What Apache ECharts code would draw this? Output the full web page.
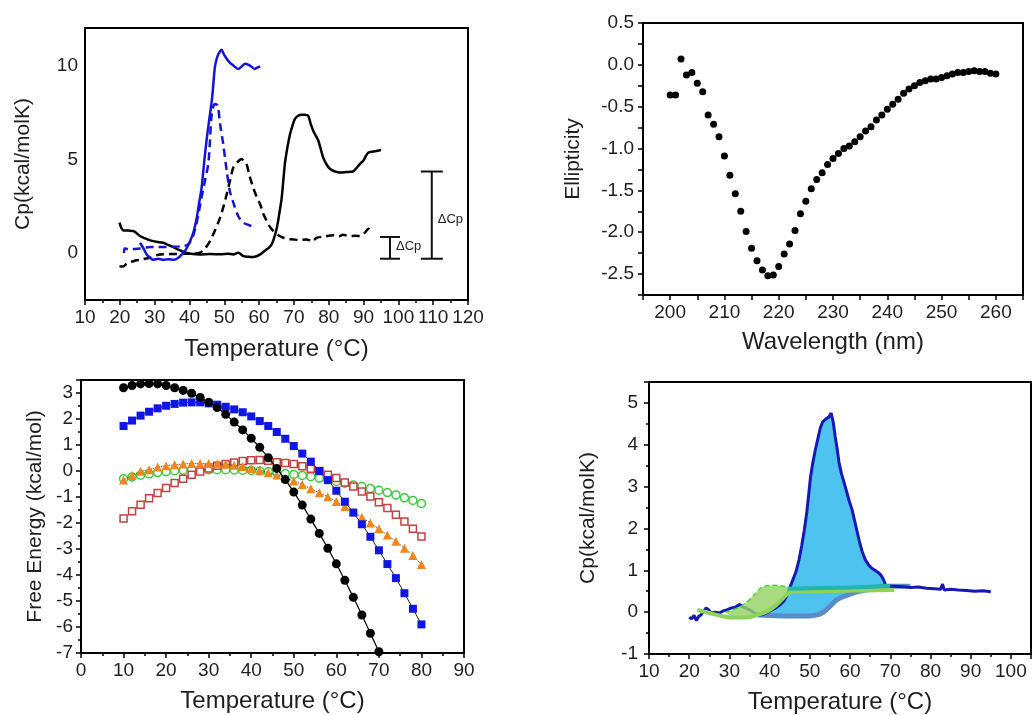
<!DOCTYPE html>
<html><head><meta charset="utf-8">
<script src="https://cdn.jsdelivr.net/npm/echarts@6/dist/echarts.min.js"></script>
<style>html,body{margin:0;padding:0;background:#fff}#c{width:1032px;height:715px}</style>
</head><body><div id="c"></div>
<script>
// ---------- Panel A: DSC thermograms (Cp vs T) ----------
var blueSolid = [[25.8,0.55],[26.8,0.25],[27.7,-0.07],[28.7,-0.25],[29.6,-0.36],[31,-0.3],[32.5,-0.36],[34,-0.33],[35.5,-0.36],[36.8,-0.25],[37.8,-0.07],[39,0.2],[40.2,0.64],[41.2,1.15],[42.1,1.89],[42.8,2.7],[43.5,3.5],[44.2,4.8],[44.9,6.0],[45.6,7.0],[46.4,8.1],[46.9,9.1],[47.3,9.9],[47.8,10.35],[48.3,10.6],[49.2,10.84],[49.9,10.6],[50.7,10.36],[51.6,10.15],[52.6,10.0],[54,9.82],[55,9.95],[56,10.09],[57.4,10.0],[58.8,9.82],[59.6,9.9],[60.3,9.96]];
var blueDashed = [[21.2,0.0],[21.4,0.25],[22.5,0.2],[24,0.22],[25.8,0.25],[27.5,0.3],[29.1,0.32],[31,0.33],[33,0.33],[35,0.34],[37.8,0.37],[39.5,0.45],[40.8,0.8],[41.8,1.4],[42.7,2.2],[43.5,3.0],[44.5,3.9],[45.4,4.74],[45.9,6.0],[46.4,7.4],[47.3,7.95],[48.1,7.86],[48.8,6.88],[49.7,5.81],[50.7,4.38],[51.6,3.3],[52.6,2.69],[54,1.98],[55.5,1.62],[57.9,1.44],[58.3,1.42]];
var blackSolid = [[19.9,1.62],[21,1.21],[22.5,1.2],[23.9,1.18],[25.8,0.91],[27.3,0.78],[28.7,0.68],[30.5,0.6],[32.5,0.55],[34,0.42],[35.4,0.32],[36.6,0.2],[37.8,0.11],[39,0.02],[41,-0.05],[43,-0.07],[46,-0.05],[49,-0.06],[51,-0.03],[52.6,-0.07],[54,0.02],[55.5,-0.16],[57,-0.2],[58.3,-0.21],[59.5,-0.15],[60.3,-0.07],[61.3,0.07],[62.2,0.2],[63,0.32],[63.6,0.46],[64.3,0.8],[65.1,1.35],[65.8,2.1],[66.5,2.96],[67.4,4.74],[68.1,5.6],[68.9,6.35],[69.6,6.8],[70.3,7.15],[71.2,7.32],[72.2,7.38],[73.2,7.37],[74.1,7.33],[74.8,6.9],[75.6,6.5],[76.3,6.25],[77,6.0],[77.7,5.55],[78.4,5.1],[79.3,4.75],[80.4,4.48],[81.8,4.35],[83.2,4.3],[85,4.32],[87,4.35],[87.8,4.5],[88.5,4.65],[89.2,4.8],[89.9,4.92],[90.6,5.15],[91.4,5.36],[92.8,5.42],[95,5.5]];
var blackDashed = [[19.9,-0.7],[20.9,-0.72],[22,-0.55],[23.9,-0.43],[26,-0.35],[28.7,-0.25],[31.5,-0.07],[35,-0.05],[38.2,-0.04],[41,-0.02],[43,0.02],[44.5,0.25],[45.9,0.64],[47.3,1.2],[48.8,1.89],[49.8,2.5],[50.7,3.14],[51.7,3.9],[52.6,4.56],[53.8,4.85],[55,5.01],[55.7,4.9],[56.4,4.74],[57.3,4.1],[58.3,3.49],[59.3,3.0],[60.3,2.6],[61.2,2.1],[62.2,1.71],[63.1,1.4],[64.1,1.18],[65.5,0.95],[67,0.82],[68.5,0.75],[69.8,0.73],[71.5,0.7],[73.6,0.73],[74.5,0.68],[75.1,0.6],[75.8,0.7],[76.6,0.82],[78.5,0.88],[81.3,0.95],[83,0.9],[84,0.98],[86.1,0.91],[87.5,0.92],[89,0.91],[90.4,1.09],[91.4,1.3],[92.1,1.2]];
// error bars: [T, low, high, label y]
var deltaCpBars = [[97.6,-0.3,0.86,0.34],[109.6,-0.3,4.35,1.8]];
var deltaCpLabel = 'ΔCp';

// ---------- Panel B: CD spectrum ----------
var wavelengths = [200,201,202,203,204,205,206,207,208,209,210,211,212,213,214,215,216,217,218,219,220,221,222,223,224,225,226,227,228,229,230,231,232,233,234,235,236,237,238,239,240,241,242,243,244,245,246,247,248,249,250,251,252,253,254,255,256,257,258,259,260];
var ellipticity = [-0.36,-0.36,0.07,-0.12,-0.09,-0.22,-0.32,-0.60,-0.71,-0.86,-1.09,-1.32,-1.54,-1.75,-1.99,-2.19,-2.34,-2.45,-2.52,-2.51,-2.41,-2.26,-2.14,-1.98,-1.78,-1.63,-1.48,-1.37,-1.29,-1.19,-1.12,-1.06,-1.00,-0.97,-0.92,-0.86,-0.79,-0.74,-0.66,-0.60,-0.53,-0.47,-0.41,-0.34,-0.29,-0.25,-0.21,-0.19,-0.17,-0.17,-0.15,-0.13,-0.11,-0.09,-0.09,-0.08,-0.07,-0.08,-0.08,-0.10,-0.11];

// ---------- Panel C: Free energy ----------
var temps3 = [10,12,14,16,18,20,22,24,26,28,30,32,34,36,38,40,42,44,46,48,50,52,54,56,58,60,62,64,66,68,70,72,74,76,78,80];
var gBlack = [3.2,3.29,3.35,3.36,3.35,3.29,3.2,3.1,2.99,2.83,2.64,2.44,2.18,1.88,1.58,1.26,0.91,0.51,0.10,-0.33,-0.81,-1.31,-1.85,-2.4,-2.97,-3.57,-4.2,-4.86,-5.54,-6.24,-6.95];
var gBlue = [1.73,1.94,2.13,2.28,2.41,2.51,2.58,2.63,2.64,2.64,2.6,2.55,2.47,2.37,2.26,2.1,1.92,1.73,1.5,1.24,0.96,0.67,0.36,0.0,-0.35,-0.76,-1.18,-1.6,-2.05,-2.53,-3.05,-3.58,-4.12,-4.7,-5.3,-5.9];
var gRed = [-1.83,-1.55,-1.3,-1.05,-0.85,-0.65,-0.46,-0.3,-0.14,-0.02,0.1,0.2,0.27,0.33,0.38,0.41,0.42,0.39,0.34,0.31,0.27,0.18,0.09,0.0,-0.14,-0.27,-0.44,-0.6,-0.79,-0.98,-1.2,-1.42,-1.68,-1.94,-2.22,-2.52];
var gOrange = [-0.35,-0.17,-0.01,0.05,0.15,0.2,0.24,0.27,0.29,0.29,0.29,0.28,0.26,0.22,0.17,0.1,0.03,-0.07,-0.15,-0.27,-0.38,-0.52,-0.68,-0.84,-0.99,-1.17,-1.37,-1.57,-1.78,-2.0,-2.22,-2.46,-2.7,-2.97,-3.25,-3.6];
var gGreen = [-0.3,-0.23,-0.16,-0.11,-0.06,-0.02,0.01,0.03,0.04,0.05,0.05,0.05,0.05,0.04,0.03,0.02,0.0,-0.03,-0.06,-0.1,-0.13,-0.17,-0.22,-0.27,-0.33,-0.4,-0.47,-0.54,-0.6,-0.67,-0.74,-0.83,-0.92,-1.03,-1.13,-1.25];

// ---------- Panel D: DSC with baselines ----------
var dscCurve = [[20,-0.12],[20.6,-0.16],[21.2,-0.08],[21.8,-0.2],[22.4,-0.1],[23,-0.06],[23.6,0.02],[24.2,0.1],[24.8,0.06],[25.4,-0.02],[26.5,0.0],[27.5,-0.02],[28.5,0.03],[29.5,0.06],[30.5,0.1],[31.5,0.12],[32.5,0.18],[33.5,0.12],[34.5,0.08],[35.5,0.03],[36.5,-0.03],[37.5,-0.07],[38.5,-0.05],[39.5,0.0],[40.5,0.05],[41.5,0.1],[42.5,0.17],[43.5,0.26],[44.3,0.4],[45,0.58],[45.8,0.78],[46.6,0.98],[47.3,1.25],[48,1.6],[48.6,1.95],[49.2,2.35],[49.7,2.8],[50.2,3.25],[50.7,3.55],[51.3,3.85],[52,4.15],[52.6,4.4],[53.2,4.55],[54,4.62],[54.7,4.66],[55.3,4.76],[55.8,4.55],[56.3,4.2],[56.8,3.9],[57.3,3.55],[57.9,3.3],[58.5,3.1],[59.1,2.9],[59.8,2.65],[60.5,2.45],[61.1,2.2],[61.7,1.95],[62.3,1.7],[63,1.45],[63.8,1.25],[64.6,1.13],[65.4,1.05],[66.2,1.0],[67,0.95],[67.7,0.88],[68.3,0.78],[68.8,0.66],[69.5,0.62],[71,0.62],[73,0.61],[75,0.59],[77,0.6],[79,0.57],[81,0.56],[82.5,0.55],[83,0.67],[83.4,0.53],[85,0.55],[87,0.53],[89,0.52],[91,0.5],[93,0.51],[95,0.49]];
var baseline = [[37,-0.07],[40,-0.08],[45,-0.09],[50,-0.09],[52,-0.06],[53,-0.02],[54,0.05],[55,0.14],[56,0.24],[57,0.31],[58,0.36],[60,0.43],[62,0.49],[64,0.53],[66,0.57],[68,0.6],[70,0.62],[72,0.62],[75,0.62]];
var tealLine = [[44.5,0.56],[50,0.57],[55,0.58],[60,0.59],[65,0.61],[70,0.63]];
var greenLine = [[22,0.05],[25,-0.02],[28,-0.09],[31,-0.13],[34,-0.13],[36.5,-0.08],[39,0.0],[41,0.12],[43,0.3],[44.5,0.44],[46,0.5],[50,0.5],[58,0.51],[65,0.52],[71,0.53]];
var greenTop = [[29,0.0],[31,0.06],[33,0.15],[35,0.3],[37,0.5],[38.5,0.62],[41,0.64],[43.5,0.62],[46,0.56]];

var FONT = 'Liberation Sans';
var TXT = '#1e1e1e';

function xAxisCfg(gi, min, max, interval, name, labelFmt, nameGap, minor) {
  return {
    type: 'value', gridIndex: gi, min: min, max: max, interval: interval,
    name: name, nameLocation: 'middle', nameGap: nameGap,
    nameTextStyle: {fontFamily: FONT, fontSize: 24, color: TXT},
    axisLine: {show: true, onZero: false, lineStyle: {color: '#000', width: 2}},
    axisTick: {show: true, inside: false, length: 5, lineStyle: {color: '#000', width: 1.5}},
    minorTick: {show: !!minor, splitNumber: 2, length: 3, lineStyle: {color: '#000', width: 1.5}},
    splitLine: {show: false},
    axisLabel: {fontFamily: FONT, fontSize: 19, color: TXT, margin: 8, formatter: labelFmt, hideOverlap: false, showMinLabel: true, showMaxLabel: true}
  };
}
function yAxisCfg(gi, min, max, interval, name, labelFmt, nameGap, margin, ticks, minor) {
  return {
    type: 'value', gridIndex: gi, min: min, max: max, interval: interval,
    name: name, nameLocation: 'middle', nameGap: nameGap,
    nameTextStyle: {fontFamily: FONT, fontSize: 21, color: TXT},
    axisLine: {show: true, onZero: false, lineStyle: {color: '#000', width: 2}},
    axisTick: {show: ticks, inside: false, length: 5, lineStyle: {color: '#000', width: 1.5}},
    minorTick: {show: !!minor, splitNumber: 2, length: 3, lineStyle: {color: '#000', width: 1.5}},
    splitLine: {show: false},
    axisLabel: {fontFamily: FONT, fontSize: 19, color: TXT, margin: margin, formatter: labelFmt, hideOverlap: false}
  };
}
function near(v, step) { var r = v / step; return Math.abs(r - Math.round(r)) < 1e-6; }
function fmtStep(step, dec) { return function (v) { return near(v, step) ? (dec ? v.toFixed(dec) : String(Math.round(v))) : ''; }; }

function pairs(xs, ys) { var out = []; for (var i = 0; i < ys.length; i++) out.push([xs[i], ys[i]]); return out; }

function fillSeries(gi, upper, lower, lo, hi, color, z) {
  return {
    type: 'custom', xAxisIndex: gi, yAxisIndex: gi, z: z, silent: true,
    data: [upper[0]],
    renderItem: function (params, api) {
      var pts = [];
      upper.forEach(function (p) { if (p[0] >= lo && p[0] <= hi) pts.push(api.coord(p)); });
      lower.slice().reverse().forEach(function (p) { if (p[0] >= lo && p[0] <= hi) pts.push(api.coord(p)); });
      return {type: 'polygon', shape: {points: pts}, style: {fill: color, stroke: null}};
    }
  };
}

var chart = echarts.init(document.getElementById('c'), null, {renderer: 'canvas'});
var gridBase = {show: true, borderColor: '#000', borderWidth: 2, backgroundColor: 'transparent', containLabel: false, outerBoundsMode: 'none'};
var option = {
  backgroundColor: '#fff',
  animation: false,
  grid: [
    Object.assign({left: 85, top: 28, width: 383, height: 272}, gridBase),
    Object.assign({left: 643, top: 23, width: 380, height: 272}, gridBase),
    Object.assign({left: 81, top: 380, width: 383, height: 273}, gridBase),
    Object.assign({left: 649, top: 382, width: 382, height: 272}, gridBase)
  ],
  xAxis: [
    xAxisCfg(0, 10, 120, 10, 'Temperature (°C)', fmtStep(10), 37, true),
    xAxisCfg(1, 195, 265, 5, 'Wavelength (nm)', fmtStep(10), 35, false),
    xAxisCfg(2, 0, 90, 10, 'Temperature (°C)', fmtStep(10), 36, true),
    xAxisCfg(3, 10, 105, 10, 'Temperature (°C)', fmtStep(10), 36, true)
  ],
  yAxis: [
    yAxisCfg(0, -2.5, 12, 2.5, 'Cp(kcal/molK)', fmtStep(5), 51, 7, false, false),
    yAxisCfg(1, -2.75, 0.5, 0.25, 'Ellipticity', fmtStep(0.5, 1), 59, 9, true, false),
    yAxisCfg(2, -7, 3.5, 1, 'Free Energy (kcal/mol)', fmtStep(1), 35, 8, true, true),
    yAxisCfg(3, -1, 5.5, 1, 'Cp(kcal/molK)', fmtStep(1), 50, 11, true, true)
  ],
  series: [
    // Panel A
    {type: 'line', xAxisIndex: 0, yAxisIndex: 0, data: blackSolid, showSymbol: false, smooth: 0.3, lineStyle: {color: '#000', width: 2.5}, z: 3},
    {type: 'line', xAxisIndex: 0, yAxisIndex: 0, data: blackDashed, showSymbol: false, smooth: 0.3, lineStyle: {color: '#000', width: 2.5, type: [8, 5]}, z: 3},
    {type: 'line', xAxisIndex: 0, yAxisIndex: 0, data: blueDashed, showSymbol: false, smooth: 0.3, lineStyle: {color: '#1414d8', width: 2.5, type: [8, 5]}, z: 4},
    {type: 'line', xAxisIndex: 0, yAxisIndex: 0, data: blueSolid, showSymbol: false, smooth: 0.3, lineStyle: {color: '#1414d8', width: 2.5}, z: 4},
    {
      type: 'custom', xAxisIndex: 0, yAxisIndex: 0, data: deltaCpBars, silent: true, z: 5,
      encode: {x: 0, y: [1, 2]},
      renderItem: function (params, api) {
        var x = api.value(0), lo = api.value(1), hi = api.value(2), lab = api.value(3);
        var a = api.coord([x, lo]), b = api.coord([x, hi]), c = api.coord([x, lab]);
        var cap = params.dataIndex === 0 ? 10 : 11;
        var st = {stroke: '#111', lineWidth: 2};
        return {type: 'group', children: [
          {type: 'line', shape: {x1: a[0], y1: a[1], x2: b[0], y2: b[1]}, style: st},
          {type: 'line', shape: {x1: a[0] - cap, y1: a[1], x2: a[0] + cap, y2: a[1]}, style: st},
          {type: 'line', shape: {x1: b[0] - cap, y1: b[1], x2: b[0] + cap, y2: b[1]}, style: st},
          {type: 'text', style: {text: deltaCpLabel, x: c[0] + 6, y: c[1], align: 'left', verticalAlign: 'middle', fontFamily: FONT, fontSize: 13, fill: '#222'}}
        ]};
      }
    },
    // Panel B
    {type: 'scatter', xAxisIndex: 1, yAxisIndex: 1, data: pairs(wavelengths, ellipticity), symbol: 'circle', symbolSize: 7, itemStyle: {color: '#000', opacity: 1}},
    // Panel C
    {type: 'line', xAxisIndex: 2, yAxisIndex: 2, data: pairs(temps3, gGreen), symbol: 'circle', symbolSize: 8, itemStyle: {color: '#fff', borderColor: '#3cc83c', borderWidth: 1.5}, lineStyle: {width: 0}, z: 2},
    {type: 'line', xAxisIndex: 2, yAxisIndex: 2, data: pairs(temps3, gRed), symbol: 'rect', symbolSize: 7, itemStyle: {color: '#fff', borderColor: '#c4423f', borderWidth: 1.5}, lineStyle: {color: '#555', width: 1}, z: 3},
    {type: 'line', xAxisIndex: 2, yAxisIndex: 2, data: pairs(temps3, gOrange), symbol: 'triangle', symbolSize: 9, itemStyle: {color: '#f0861c'}, lineStyle: {color: '#333', width: 1, type: 'dotted'}, z: 4},
    {type: 'line', xAxisIndex: 2, yAxisIndex: 2, data: pairs(temps3, gBlue), symbol: 'rect', symbolSize: 8, itemStyle: {color: '#0f16e6'}, lineStyle: {color: '#222', width: 1}, z: 5},
    {type: 'line', xAxisIndex: 2, yAxisIndex: 2, data: pairs(temps3, gBlack), symbol: 'circle', symbolSize: 9, itemStyle: {color: '#000'}, lineStyle: {color: '#000', width: 1.2}, z: 6},
    // Panel D
    fillSeries(3, dscCurve, baseline, 37, 70, '#4ec3ef', 1),
    {type: 'line', xAxisIndex: 3, yAxisIndex: 3, data: baseline, showSymbol: false, smooth: 0.4, lineStyle: {color: '#5a8cc6', width: 5}, z: 2},
    {type: 'line', xAxisIndex: 3, yAxisIndex: 3, data: dscCurve, showSymbol: false, lineStyle: {color: '#1818b4', width: 3}, z: 4},
    fillSeries(3, greenTop, greenLine, 29, 46, 'rgba(150,210,100,0.82)', 5),
    {type: 'line', xAxisIndex: 3, yAxisIndex: 3, data: greenTop, showSymbol: false, smooth: 0.4, lineStyle: {color: '#40d840', width: 1.5, type: [5, 3]}, z: 6},
    {type: 'line', xAxisIndex: 3, yAxisIndex: 3, data: greenLine, showSymbol: false, smooth: 0.4, lineStyle: {color: '#8cd35a', width: 4}, z: 6},
    {type: 'line', xAxisIndex: 3, yAxisIndex: 3, data: tealLine, showSymbol: false, smooth: 0.4, lineStyle: {color: '#27b3ae', width: 4}, z: 7}
  ]
};
chart.setOption(option);
</script></body></html>
